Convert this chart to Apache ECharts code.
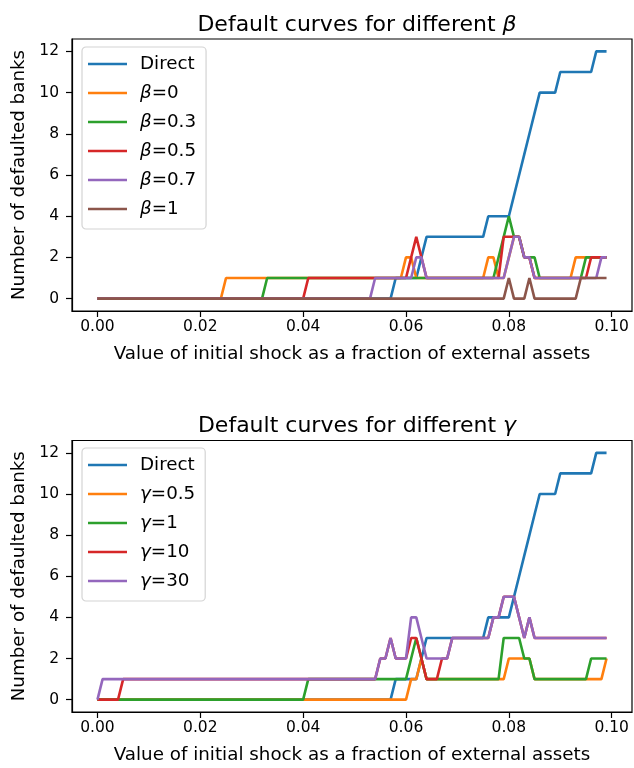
<!DOCTYPE html>
<html>
<head>
<meta charset="utf-8">
<script src="https://cdn.jsdelivr.net/npm/echarts@6/dist/echarts.min.js"></script>
<style>
html,body{margin:0;padding:0;background:#fff;}
#chart{width:634px;height:768px;}
</style>
</head>
<body>
<div id="chart"></div>
<script>
// x grid: value of initial shock (fraction of external assets)
const shock = [
0.000,0.001,0.002,0.003,0.004,0.005,0.006,0.007,0.008,0.009,
0.010,0.011,0.012,0.013,0.014,0.015,0.016,0.017,0.018,0.019,
0.020,0.021,0.022,0.023,0.024,0.025,0.026,0.027,0.028,0.029,
0.030,0.031,0.032,0.033,0.034,0.035,0.036,0.037,0.038,0.039,
0.040,0.041,0.042,0.043,0.044,0.045,0.046,0.047,0.048,0.049,
0.050,0.051,0.052,0.053,0.054,0.055,0.056,0.057,0.058,0.059,
0.060,0.061,0.062,0.063,0.064,0.065,0.066,0.067,0.068,0.069,
0.070,0.071,0.072,0.073,0.074,0.075,0.076,0.077,0.078,0.079,
0.080,0.081,0.082,0.083,0.084,0.085,0.086,0.087,0.088,0.089,
0.090,0.091,0.092,0.093,0.094,0.095,0.096,0.097,0.098,0.099];

const direct = [
0,0,0,0,0,0,0,0,0,0, 0,0,0,0,0,0,0,0,0,0,
0,0,0,0,0,0,0,0,0,0, 0,0,0,0,0,0,0,0,0,0,
0,0,0,0,0,0,0,0,0,0, 0,0,0,0,0,0,0,0,1,1,
1,1,1,2,3,3,3,3,3,3, 3,3,3,3,3,3,4,4,4,4,
4,5,6,7,8,9,10,10,10,10, 11,11,11,11,11,11,11,12,12,12];

const beta0 = [
0,0,0,0,0,0,0,0,0,0, 0,0,0,0,0,0,0,0,0,0,
0,0,0,0,0,1,1,1,1,1, 1,1,1,1,1,1,1,1,1,1,
1,1,1,1,1,1,1,1,1,1, 1,1,1,1,1,1,1,1,1,1,
2,2,1,1,1,1,1,1,1,1, 1,1,1,1,1,1,2,2,1,1,
2,3,3,2,2,1,1,1,1,1, 1,1,1,2,2,2,2,2,2,2];

const beta03 = [
0,0,0,0,0,0,0,0,0,0, 0,0,0,0,0,0,0,0,0,0,
0,0,0,0,0,0,0,0,0,0, 0,0,0,1,1,1,1,1,1,1,
1,1,1,1,1,1,1,1,1,1, 1,1,1,1,1,1,1,1,1,1,
1,1,1,1,1,1,1,1,1,1, 1,1,1,1,1,1,1,1,2,3,
4,3,3,2,2,2,1,1,1,1, 1,1,1,1,1,2,2,2,2,2];

const beta05 = [
0,0,0,0,0,0,0,0,0,0, 0,0,0,0,0,0,0,0,0,0,
0,0,0,0,0,0,0,0,0,0, 0,0,0,0,0,0,0,0,0,0,
0,1,1,1,1,1,1,1,1,1, 1,1,1,1,1,1,1,1,1,1,
1,2,3,2,1,1,1,1,1,1, 1,1,1,1,1,1,1,1,1,3,
3,3,3,2,2,1,1,1,1,1, 1,1,1,1,1,1,2,2,2,2];

const beta07 = [
0,0,0,0,0,0,0,0,0,0, 0,0,0,0,0,0,0,0,0,0,
0,0,0,0,0,0,0,0,0,0, 0,0,0,0,0,0,0,0,0,0,
0,0,0,0,0,0,0,0,0,0, 0,0,0,0,1,1,1,1,1,1,
1,1,2,2,1,1,1,1,1,1, 1,1,1,1,1,1,1,1,1,1,
2,3,3,2,2,1,1,1,1,1, 1,1,1,1,1,1,1,1,2,2];

const beta1 = [
0,0,0,0,0,0,0,0,0,0, 0,0,0,0,0,0,0,0,0,0,
0,0,0,0,0,0,0,0,0,0, 0,0,0,0,0,0,0,0,0,0,
0,0,0,0,0,0,0,0,0,0, 0,0,0,0,0,0,0,0,0,0,
0,0,0,0,0,0,0,0,0,0, 0,0,0,0,0,0,0,0,0,0,
1,0,0,0,1,0,0,0,0,0, 0,0,0,0,1,1,1,1,1,1];

const gamma05 = [
0,0,0,0,0,0,0,0,0,0, 0,0,0,0,0,0,0,0,0,0,
0,0,0,0,0,0,0,0,0,0, 0,0,0,0,0,0,0,0,0,0,
0,0,0,0,0,0,0,0,0,0, 0,0,0,0,0,0,0,0,0,0,
0,1,1,2,1,1,1,1,1,1, 1,1,1,1,1,1,1,1,1,1,
2,2,2,2,2,1,1,1,1,1, 1,1,1,1,1,1,1,1,1,2];

const gamma1 = [
0,0,0,0,0,0,0,0,0,0, 0,0,0,0,0,0,0,0,0,0,
0,0,0,0,0,0,0,0,0,0, 0,0,0,0,0,0,0,0,0,0,
0,1,1,1,1,1,1,1,1,1, 1,1,1,1,1,1,1,1,1,1,
1,2,3,2,1,1,1,1,1,1, 1,1,1,1,1,1,1,1,1,3,
3,3,3,2,2,1,1,1,1,1, 1,1,1,1,1,1,2,2,2,2];

const gamma10 = [
0,0,0,0,0,1,1,1,1,1, 1,1,1,1,1,1,1,1,1,1,
1,1,1,1,1,1,1,1,1,1, 1,1,1,1,1,1,1,1,1,1,
1,1,1,1,1,1,1,1,1,1, 1,1,1,1,1,2,2,3,2,2,
2,3,3,2,1,1,1,2,2,3, 3,3,3,3,3,3,3,4,4,5,
5,5,4,3,4,3,3,3,3,3, 3,3,3,3,3,3,3,3,3,3];

const gamma30 = [
0,1,1,1,1,1,1,1,1,1, 1,1,1,1,1,1,1,1,1,1,
1,1,1,1,1,1,1,1,1,1, 1,1,1,1,1,1,1,1,1,1,
1,1,1,1,1,1,1,1,1,1, 1,1,1,1,1,2,2,3,2,2,
2,4,4,3,2,2,2,2,2,3, 3,3,3,3,3,3,3,4,4,5,
5,5,4,3,4,3,3,3,3,3, 3,3,3,3,3,3,3,3,3,3];

const xTicks = [0, 0.02, 0.04, 0.06, 0.08, 0.10];
const yTicks = [0, 2, 4, 6, 8, 10, 12];

const topNames = ['Direct', 'β=0', 'β=0.3', 'β=0.5', 'β=0.7', 'β=1'];
const bottomNames = ['Direct', 'γ=0.5', 'γ=1', 'γ=10', 'γ=30'];
const topSeries = [direct, beta0, beta03, beta05, beta07, beta1];
const bottomSeries = [direct, gamma05, gamma1, gamma10, gamma30];
const colors = ['#1f77b4', '#ff7f0e', '#2ca02c', '#d62728', '#9467bd', '#8c564b'];

const FONT = 'DejaVu Sans';
const TICK_FS = 15.5, LABEL_FS = 18.3, TITLE_FS = 22;
const pairs = (ys) => ys.map((v, i) => [shock[i], v]);

function makeX(gi) {
  return {
    type: 'value', gridIndex: gi, min: -0.00495, max: 0.10395,
    name: 'Value of initial shock as a fraction of external assets',
    nameLocation: 'middle', nameGap: 34,
    nameTextStyle: { fontFamily: FONT, fontSize: LABEL_FS, color: '#000' },
    axisLine: { show: true, onZero: false, lineStyle: { color: '#000', width: 1.2 } },
    axisTick: { show: true, length: 6, lineStyle: { color: '#000', width: 1.2 }, customValues: xTicks },
    axisLabel: { color: '#000', fontFamily: FONT, fontSize: TICK_FS, margin: 8,
      customValues: xTicks, formatter: v => v.toFixed(2) },
    splitLine: { show: false }
  };
}
function makeY(gi) {
  return {
    type: 'value', gridIndex: gi, min: -0.6, max: 12.6,
    name: 'Number of defaulted banks',
    nameLocation: 'middle', nameGap: 42, nameRotate: 90,
    nameTextStyle: { fontFamily: FONT, fontSize: LABEL_FS, color: '#000' },
    axisLine: { show: true, onZero: false, lineStyle: { color: '#000', width: 1.2 } },
    axisTick: { show: true, length: 6, lineStyle: { color: '#000', width: 1.2 }, customValues: yTicks },
    axisLabel: { color: '#000', fontFamily: FONT, fontSize: TICK_FS, margin: 13,
      customValues: yTicks },
    splitLine: { show: false }
  };
}
const rich = { i: { fontStyle: 'italic', fontFamily: FONT, fontSize: LABEL_FS, color: '#000' } };
const titleRich = { i: { fontStyle: 'italic', fontFamily: FONT, fontSize: TITLE_FS, color: '#000' } };
const fmt = n => n.replace(/^([βγ])/, '{i|$1}');

function makeLegend(names, top) {
  return {
    data: names, orient: 'vertical', left: 82, top: top,
    icon: 'path://M0,0H39V2.7H0Z',
    itemWidth: 39, itemHeight: 14, itemGap: 9,
    padding: [7, 10, 10, 6],
    backgroundColor: 'rgba(255,255,255,0.8)', borderColor: '#d4d4d4', borderWidth: 1.2, borderRadius: 4,
    formatter: fmt,
    textStyle: { fontFamily: FONT, fontSize: LABEL_FS, color: '#000', lineHeight: 20, padding: [0, 0, 0, 8], rich: rich },
    selectedMode: false
  };
}

const series = [];
topSeries.forEach((ys, k) => series.push({
  name: topNames[k], type: 'line', xAxisIndex: 0, yAxisIndex: 0, data: pairs(ys),
  symbol: 'none', color: colors[k], lineStyle: { width: 2.6, color: colors[k] }, animation: false
}));
bottomSeries.forEach((ys, k) => series.push({
  name: bottomNames[k], type: 'line', xAxisIndex: 1, yAxisIndex: 1, data: pairs(ys),
  symbol: 'none', color: colors[k], lineStyle: { width: 2.6, color: colors[k] }, animation: false
}));

const chart = echarts.init(document.getElementById('chart'), null, { renderer: 'canvas' });
chart.setOption({
  backgroundColor: '#fff',
  animation: false,
  title: [
    { text: 'Default curves for different {i|β}', left: 352, top: 9, textAlign: 'center',
      textStyle: { fontFamily: FONT, fontSize: TITLE_FS, fontWeight: 'normal', color: '#000', rich: titleRich } },
    { text: 'Default curves for different {i|γ}', left: 352, top: 410, textAlign: 'center',
      textStyle: { fontFamily: FONT, fontSize: TITLE_FS, fontWeight: 'normal', color: '#000', rich: titleRich } }
  ],
  grid: [
    { left: 72, right: 2, top: 39, height: 272, show: true, borderColor: '#000', borderWidth: 1.2, backgroundColor: 'transparent' },
    { left: 72, right: 2, top: 440.5, height: 271.5, show: true, borderColor: '#000', borderWidth: 1.2, backgroundColor: 'transparent' }
  ],
  legend: [makeLegend(topNames, 47), makeLegend(bottomNames, 448)],
  xAxis: [makeX(0), makeX(1)],
  yAxis: [makeY(0), makeY(1)],
  series: series
});
</script>
</body>
</html>
